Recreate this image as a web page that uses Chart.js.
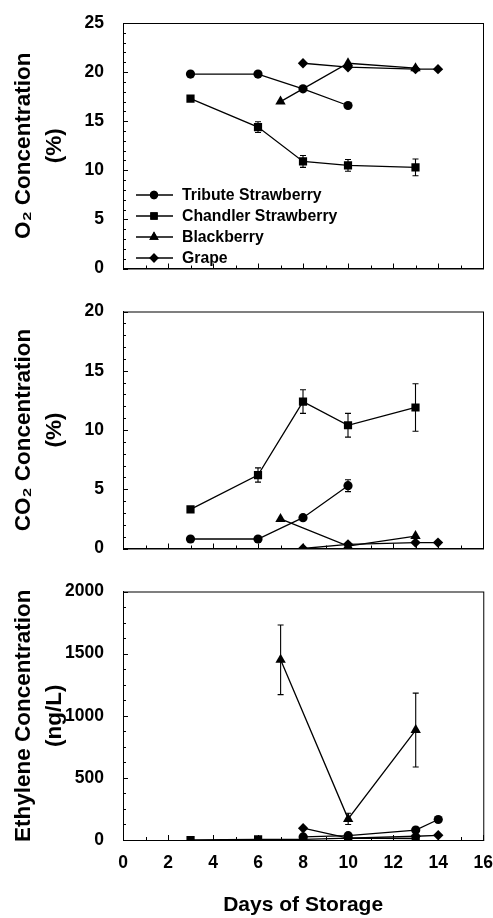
<!DOCTYPE html>
<html>
<head>
<meta charset="utf-8">
<script src="https://cdn.jsdelivr.net/npm/chart.js@4"></script>
<style>
  html, body { margin: 0; padding: 0; background: #fff; overflow: hidden; }
  #wrap { position: relative; width: 493px; height: 918px; overflow: hidden; }
  canvas { position: absolute; left: 0; }
</style>
</head>
<body>
<div id="wrap">
  <canvas id="o2Chart" width="493" height="290" style="top:0px"></canvas>
  <canvas id="co2Chart" width="493" height="280" style="top:290px"></canvas>
  <canvas id="ethChart" width="498" height="348" style="top:570px"></canvas>
</div>
<script>
// data
const seriesNames = ['Tribute Strawberry', 'Chandler Strawberry', 'Blackberry', 'Grape'];
const seriesShapes = ['circle', 'rect', 'triangle', 'rectRot'];

// Tribute strawberry
const daysTS = [3, 6, 8, 10];
const o2TS = [19.8, 19.8, 18.3, 16.6];
const co2TS = [0.8, 0.8, 2.6, 5.3];
const co2TSerr = [0, 0, 0, 0.5];
const ethDaysTS = [8, 10, 13, 14];
const ethTS = [25, 35, 80, 165];

// Chandler strawberry
const daysCS = [3, 6, 8, 10, 13];
const o2CS = [17.3, 14.4, 10.9, 10.5, 10.3];
const o2CSerr = [0, 0.55, 0.6, 0.6, 0.85];
const co2CS = [3.3, 6.2, 12.4, 10.4, 11.9];
const co2CSerr = [0, 0.6, 1.0, 1.0, 2.0];
const ethCS = [0, 5, 5, 15, 12];

// Blackberry
const daysBB = [7, 10, 13];
const o2BB = [17.0, 20.9, 20.4];
const co2BB = [2.5, 0.2, 1.05];
const ethBB = [1450, 170, 885];
const ethBBerr = [280, 45, 297];

// Grape
const daysGR = [8, 10, 13, 14];
const o2GR = [20.9, 20.5, 20.3, 20.3];
const co2GR = [0, 0.35, 0.5, 0.5];
const ethGR = [95, 15, 30, 38];

const xTicks = [0, 2, 4, 6, 8, 10, 12, 14, 16];

const FONT = "'Liberation Sans', Arial, 'DejaVu Sans', sans-serif";
const radii = { circle: 4.6, rect: 5.8, triangle: 6, rectRot: 5.2 };

function series(idx, days, values, errors) {
    const shape = seriesShapes[idx];
    return {
        label: seriesNames[idx],
        data: days.map((d, i) => ({ x: d, y: values[i] })),
        errors: errors || null,
        borderColor: '#000',
        backgroundColor: '#000',
        borderWidth: 1.3,
        pointStyle: shape,
        pointRadius: radii[shape],
        pointBorderWidth: 0,
        pointBackgroundColor: '#000',
        fill: false,
        tension: 0
    };
}

// error bars with small caps, drawn under the markers
const errorBars = {
    id: 'errorBars',
    beforeDatasetsDraw(chart) {
        const ctx = chart.ctx;
        const xs = chart.scales.x, ys = chart.scales.y;
        ctx.save();
        ctx.strokeStyle = '#000';
        ctx.lineWidth = 1.1;
        chart.data.datasets.forEach(ds => {
            if (!ds.errors) return;
            ds.data.forEach((p, i) => {
                const e = ds.errors[i];
                if (!e) return;
                const px = xs.getPixelForValue(p.x);
                const top = ys.getPixelForValue(p.y + e);
                const bot = ys.getPixelForValue(p.y - e);
                ctx.beginPath();
                ctx.moveTo(px, top); ctx.lineTo(px, bot);
                ctx.moveTo(px - 3, top); ctx.lineTo(px + 3, top);
                ctx.moveTo(px - 3, bot); ctx.lineTo(px + 3, bot);
                ctx.stroke();
            });
        });
        ctx.restore();
    }
};

// frame round the plot and inward tick marks
const frame = {
    id: 'frame',
    afterDraw(chart, args, opts) {
        const ctx = chart.ctx;
        const a = chart.chartArea;
        const xs = chart.scales.x, ys = chart.scales.y;
        ctx.save();
        ctx.strokeStyle = '#000';
        ctx.lineWidth = 1;
        ctx.strokeRect(a.left + 0.5, a.top + 0.5, a.right - a.left, a.bottom - a.top);
        ctx.beginPath();
        for (let v = ys.min; v <= ys.max + 1e-9; v += opts.minorY) {
            const py = Math.round(ys.getPixelForValue(v)) + 0.5;
            const major = Math.abs(v / opts.majorY - Math.round(v / opts.majorY)) < 1e-6;
            ctx.moveTo(a.left, py); ctx.lineTo(a.left + (major ? 5 : 3), py);
        }
        for (let v = xs.min; v <= xs.max + 1e-9; v += 1) {
            const px = Math.round(xs.getPixelForValue(v)) + 0.5;
            ctx.moveTo(px, a.bottom); ctx.lineTo(px, a.bottom - (v % 2 === 0 ? 5 : 3));
        }
        ctx.stroke();
        ctx.restore();
    }
};

// legend inside the top panel
const insideLegend = {
    id: 'insideLegend',
    afterDraw(chart, args, opts) {
        if (!opts.show) return;
        const ctx = chart.ctx;
        ctx.save();
        ctx.fillStyle = '#000';
        ctx.strokeStyle = '#000';
        ctx.font = 'bold 15.8px ' + FONT;
        ctx.textBaseline = 'middle';
        const rows = [195, 216, 237, 258];
        chart.data.datasets.forEach((ds, i) => {
            const y = rows[i];
            ctx.lineWidth = 1.3;
            ctx.beginPath();
            ctx.moveTo(136, y); ctx.lineTo(173, y);
            ctx.stroke();
            Chart.helpers.drawPoint(ctx, { pointStyle: ds.pointStyle, radius: ds.pointRadius * 0.9, borderWidth: 0 }, 154, y);
            ctx.fill();
            ctx.fillText(ds.label, 182, y + 1);
        });
        ctx.restore();
    }
};

function makePanel(id, cfg) {
    const ctx = document.getElementById(id).getContext('2d');
    return new Chart(ctx, {
        type: 'line',
        data: { datasets: cfg.datasets },
        plugins: [errorBars, frame, insideLegend],
        options: {
            responsive: false,
            animation: false,
            devicePixelRatio: 1,
            layout: { padding: { top: cfg.top, right: cfg.right, left: 0, bottom: 0 } },
            plugins: {
                legend: { display: false },
                tooltip: { enabled: false },
                frame: { majorY: cfg.step, minorY: cfg.minor },
                insideLegend: { show: !!cfg.legend }
            },
            scales: {
                x: {
                    type: 'linear',
                    min: 0,
                    max: 16,
                    afterBuildTicks: s => { s.ticks = xTicks.map(v => ({ value: v })); },
                    afterFit: s => { s.height = cfg.xHeight; },
                    grid: { display: false },
                    border: { display: true, color: '#000', width: 1 },
                    ticks: {
                        display: !!cfg.xLabels,
                        color: '#000',
                        padding: 5,
                        maxRotation: 0,
                        callback: v => String(v),
                        font: { family: FONT, size: 17.5, weight: 'bold' }
                    },
                    title: {
                        display: !!cfg.xLabels,
                        text: 'Days of Storage',
                        color: '#000',
                        padding: { top: 0, bottom: 0 },
                        font: { family: FONT, size: 21, weight: 'bold' }
                    }
                },
                y: {
                    min: 0,
                    max: cfg.max,
                    afterFit: s => { s.width = 123; },
                    grid: { display: false },
                    border: { display: true, color: '#000', width: 1 },
                    ticks: {
                        stepSize: cfg.step,
                        color: '#000',
                        padding: 11,
                        callback: v => String(v),
                        font: { family: FONT, size: 17.5, weight: 'bold' }
                    },
                    title: {
                        display: true,
                        text: cfg.yTitle,
                        color: '#000',
                        padding: { top: 8, bottom: 0 },
                        font: { family: FONT, size: 22.5, weight: 'bold', lineHeight: 1.4 }
                    }
                }
            }
        }
    });
}

makePanel('o2Chart', {
    top: 23, right: 10, xHeight: 14, max: 25, step: 5, minor: 1, legend: true,
    yTitle: ['O\u2082 Concentration', '(%)'],
    datasets: [
        series(0, daysTS, o2TS),
        series(1, daysCS, o2CS, o2CSerr),
        series(2, daysBB, o2BB),
        series(3, daysGR, o2GR)
    ]
});

makePanel('co2Chart', {
    top: 15, right: 10, xHeight: 13, max: 20, step: 5, minor: 1,
    yTitle: ['CO\u2082 Concentration', '(%)'],
    datasets: [
        series(0, daysTS, co2TS, co2TSerr),
        series(1, daysCS, co2CS, co2CSerr),
        series(2, daysBB, co2BB),
        series(3, daysGR, co2GR)
    ]
});

makePanel('ethChart', {
    top: 20, right: 0, xHeight: 78, max: 2000, step: 500, minor: 125, xLabels: true,
    yTitle: ['Ethylene Concentration', '(ng/L)'],
    datasets: [
        series(0, ethDaysTS, ethTS),
        series(1, daysCS, ethCS),
        series(2, daysBB, ethBB, ethBBerr),
        series(3, daysGR, ethGR)
    ]
});
</script>
</body>
</html>
